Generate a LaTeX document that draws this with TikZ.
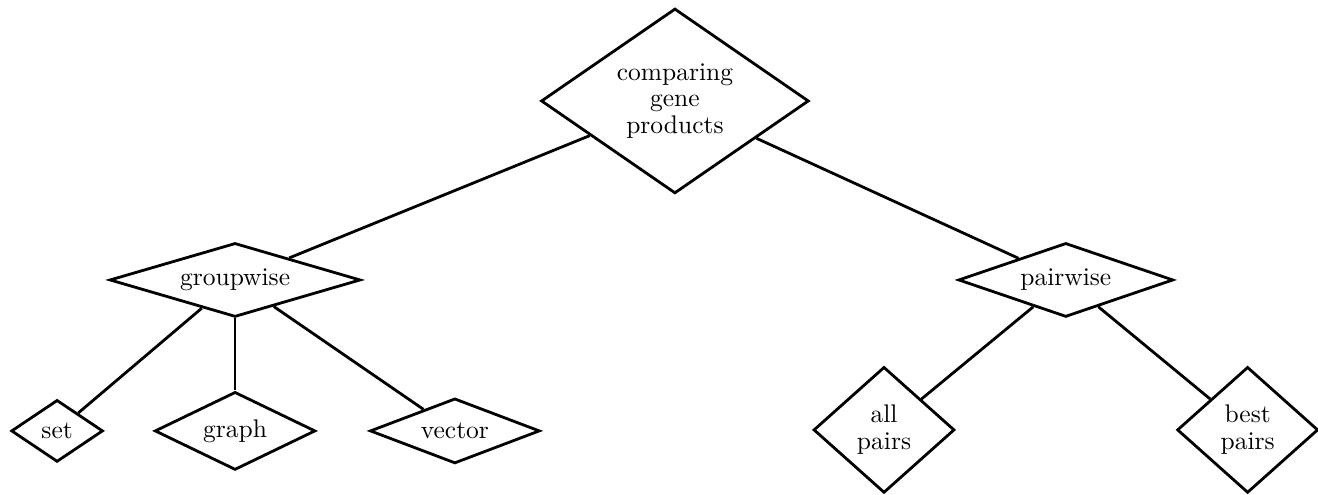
\documentclass[tikz,border=0pt]{standalone}
\usepackage{amsmath}
\usetikzlibrary{shapes.geometric}
\usetikzlibrary{positioning}

\begin{document}
\begin{tikzpicture}[choice/.style={diamond, draw, line width=1.1pt, inner sep=0pt, align=center,
        font={\fontsize{10}{10.5}\selectfont}},
    on grid, every edge/.style={draw, line width=1.1pt}]
        \useasboundingbox (-264.7pt,39.6pt) rectangle (252.2pt,-154.5pt);
        \node[choice, shape aspect=1.45, minimum width=105pt, minimum height=72.5pt] (cmp) {comparing\\gene\\products};
        \node[choice, shape aspect=3.4, minimum width=98.4pt, minimum height=29pt, below left=70.2pt and 172.5pt of cmp] (grp) {groupwise};
        \node[choice, shape aspect=2.9, minimum width=84.3pt, minimum height=29pt, below right=70.2pt and 153.3pt of cmp] (pair) {pairwise};

        \node[choice, shape aspect=1.5, minimum width=36pt, minimum height=24.3pt, below left=59.2pt and 69.8pt of grp] (set) {set};
        \node[choice, shape aspect=2.06, minimum width=63pt, minimum height=30.6pt, below=59.2pt of grp] (graph) {graph};
        \node[choice, shape aspect=2.6, minimum width=66.6pt, minimum height=25.5pt, below right=59.2pt and 86.2pt of grp] (vec) {vector};

        \node[choice, shape aspect=1.12, minimum width=55.3pt, minimum height=49.4pt, below left=58.8pt and 71.3pt of pair] (allp) {all\\pairs};
        \node[choice, shape aspect=1.12, minimum width=55.3pt, minimum height=49.4pt, below right=58.8pt and 71.3pt of pair] (bestp) {best\\pairs};

        \path (cmp) edge (grp) edge (pair);
        \path (grp) edge (set) edge (graph) edge (vec);
        \path (pair) edge (allp) edge (bestp);
    \end{tikzpicture}
\end{document}
